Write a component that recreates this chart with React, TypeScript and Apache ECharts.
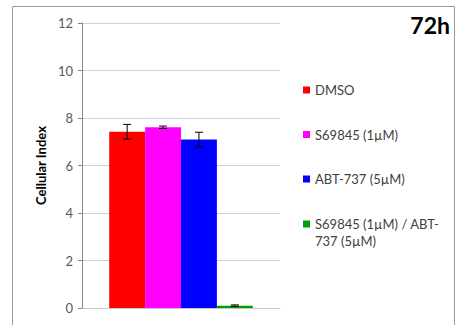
import React, { useEffect, useRef } from "react";
import * as echarts from "echarts";

const categories = ["72h"];
const seriesNames = ["DMSO", "S69845 (1µM)", "ABT-737 (5µM)", "S69845 (1µM) / ABT-\n737 (5µM)"];
const seriesColors = ["#ff0000", "#ff00ff", "#0000ff", "#00a000"];
const seriesValues = [7.42, 7.61, 7.09, 0.1];
const seriesErrors = [0.31, 0.05, 0.31, 0.03];
const yTicks = { min: 0, max: 12, interval: 2 };
const titleText = "72h";
const yAxisName = "Cellular Index";

const FONT = "Lato, 'Open Sans', sans-serif";

export default function App() {
  const ref = useRef<HTMLDivElement>(null);
  useEffect(() => {
    if (!ref.current) return;
    const chart = echarts.init(ref.current, null, { renderer: "svg" });
    const gap = 0.275;
    const n = seriesNames.length;
    const barSeries = seriesNames.map((name, i) => ({
      type: "bar",
      name,
      data: [seriesValues[i]],
      itemStyle: { color: seriesColors[i] },
      barGap: "0%",
      barCategoryGap: gap * 100 + "%",
      z: 2,
    }));
    const errData = seriesNames.map((_, i) => [0, seriesValues[i], seriesErrors[i], i]);
    const legendItems: any[] = [];
    const legendY = [90, 134.5, 179, 224];
    seriesNames.forEach((name, i) => {
      legendItems.push({
        type: "rect",
        shape: { x: 303, y: legendY[i] - 3.5, width: 7, height: 7 },
        style: { fill: seriesColors[i] },
      });
      legendItems.push({
        type: "text",
        x: 315,
        y: legendY[i] - 8.5,
        style: {
          text: name,
          fill: "#404040",
          font: `13px ${FONT}`,
          lineHeight: 17,
          verticalAlign: "top",
        },
      });
    });
    chart.setOption({
      animation: false,
      textStyle: { fontFamily: FONT },
      title: {
        text: titleText,
        right: 2,
        top: 8,
        textStyle: { fontSize: 23, fontWeight: "bold", color: "#000", fontFamily: FONT },
      },
      grid: { left: 82, right: 177, top: 23, bottom: 17, containLabel: false },
      xAxis: {
        type: "category",
        data: categories,
        axisLabel: { show: false },
        axisTick: { show: false },
        axisLine: { lineStyle: { color: "#c8c8c8", width: 1 } },
      },
      yAxis: {
        type: "value",
        min: yTicks.min,
        max: yTicks.max,
        interval: yTicks.interval,
        name: yAxisName,
        nameLocation: "middle",
        nameRotate: 90,
        nameGap: 35,
        nameTextStyle: { fontSize: 13, fontWeight: "bold", color: "#000", fontFamily: FONT },
        axisLine: { show: true, lineStyle: { color: "#868686" } },
        axisTick: { show: true, length: 4, lineStyle: { color: "#868686" } },
        axisLabel: { color: "#595959", fontSize: 13, margin: 9, fontFamily: FONT },
        splitLine: { lineStyle: { color: "#d0d0d0", width: 1 } },
      },
      series: [
        ...barSeries,
        {
          type: "custom",
          name: "err",
          data: errData,
          z: 5,
          renderItem: (params: any, api: any) => {
            const v = api.value(1);
            const e = api.value(2);
            const idx = api.value(3);
            const band = api.size([1, 0])[0];
            const barW = (band * (1 - gap)) / n;
            const c = api.coord([api.value(0), v]);
            const x = c[0] + (idx - (n - 1) / 2) * barW;
            const yTop = api.coord([0, v + e])[1];
            const yBot = api.coord([0, v - e])[1];
            const cap = 4;
            const style = { stroke: "#000", lineWidth: 1 };
            return {
              type: "group",
              children: [
                { type: "line", shape: { x1: x, y1: yTop, x2: x, y2: yBot }, style },
                { type: "line", shape: { x1: x - cap, y1: yTop, x2: x + cap, y2: yTop }, style },
                { type: "line", shape: { x1: x - cap, y1: yBot, x2: x + cap, y2: yBot }, style },
              ],
            };
          },
        },
      ],
      graphic: [
        {
          type: "rect",
          shape: { x: 12.5, y: 6.5, width: 442, height: 330 },
          style: { fill: "none", stroke: "#9a9a9a", lineWidth: 1 },
          silent: true,
        },
        ...legendItems,
      ],
    });
    return () => chart.dispose();
  }, []);
  return (
    <div
      ref={ref}
      style={{ position: "absolute", left: 0, top: 0, width: 457, height: 325, background: "#fff" }}
    />
  );
}
